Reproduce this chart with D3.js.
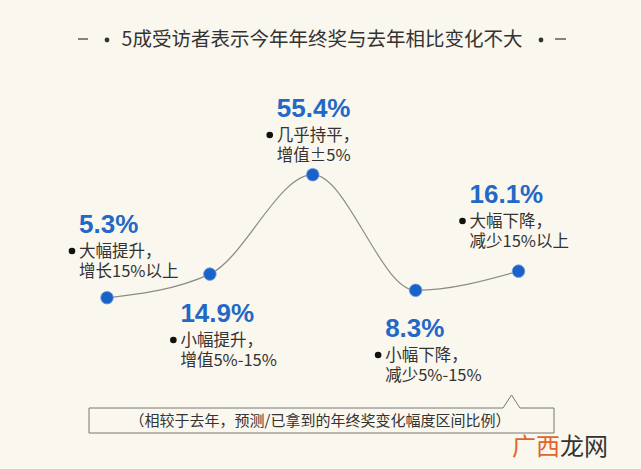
<!DOCTYPE html>
<html><head><meta charset="utf-8">
<script src="https://cdn.jsdelivr.net/npm/d3@7"></script>
<style>
html,body{margin:0;padding:0;background:#faf7ee;}
svg{display:block;}
</style></head>
<body>
<script>
const title = "5成受访者表示今年年终奖与去年相比变化不大";
const categories = ["大幅提升", "小幅提升", "几乎持平", "小幅下降", "大幅下降"];
const values = [5.3, 14.9, 55.4, 8.3, 16.1];
const valueLabels = ["5.3%", "14.9%", "55.4%", "8.3%", "16.1%"];
const line1 = ["大幅提升，", "小幅提升，", "几乎持平，", "小幅下降，", "大幅下降，"];
const line2 = ["增长15%以上", "增值5%-15%", "增值±5%", "减少5%-15%", "减少15%以上"];
const note = "（相较于去年，预测/已拿到的年终奖变化幅度区间比例）";

const W = 641, H = 469;
const svg = d3.select("body").append("svg").attr("width", W).attr("height", H);
svg.append("rect").attr("width", W).attr("height", H).attr("fill", "#faf7ee");

const cjk = "'Noto Sans CJK SC','Noto Sans',sans-serif";
const lat = "'Liberation Sans',Arial,sans-serif";

// title
svg.append("text").attr("x", 322).attr("y", 46).attr("text-anchor", "middle")
  .attr("font-family", cjk).attr("font-size", 19.5).attr("fill", "#333").text(title);
[[78, 88], [555, 566]].forEach(([a, b]) => {
  svg.append("line").attr("x1", a).attr("x2", b).attr("y1", 39).attr("y2", 39)
    .attr("stroke", "#444").attr("stroke-width", 1.3);
});
[107, 541].forEach(cx => svg.append("circle").attr("cx", cx).attr("cy", 40).attr("r", 2.4).attr("fill", "#333"));

// scales
const x = d3.scalePoint().domain(categories).range([107, 518.5]);
const y = d3.scaleLinear().domain([0, 60]).range([310.7, 163.4]);

const pts = categories.map((c, i) => ({ c, v: values[i], i }));

svg.append("path").datum(pts)
  .attr("d", d3.line().x(d => x(d.c)).y(d => y(d.v)).curve(d3.curveMonotoneX))
  .attr("fill", "none").attr("stroke", "#8c8c8c").attr("stroke-width", 1.2);

svg.selectAll("circle.dot").data(pts).join("circle").attr("class", "dot")
  .attr("cx", d => x(d.c)).attr("cy", d => y(d.v)).attr("r", 6.3)
  .attr("fill", "#1a62c8").attr("stroke", "#6f9ee0").attr("stroke-width", 0.8);

// label offsets (layout)
const offs = [[-28, -64.7], [-29.5, 47.9], [-36, -57.7], [-30.5, 46.7], [-49, -68.2]];

pts.forEach(d => {
  const lx = x(d.c) + offs[d.i][0];
  const by = y(d.v) + offs[d.i][1];
  svg.append("text").attr("x", lx).attr("y", by)
    .attr("font-family", lat).attr("font-weight", "bold").attr("font-size", 26)
    .attr("fill", "#2468c6").text(valueLabels[d.i]);
  svg.append("circle").attr("cx", lx - 7).attr("cy", by + 24 - 6).attr("r", 3.3).attr("fill", "#111");
  svg.append("text").attr("x", lx).attr("y", by + 24)
    .attr("font-family", cjk).attr("font-size", 16.5).attr("fill", "#333").text(line1[d.i]);
  svg.append("text").attr("x", lx).attr("y", by + 44)
    .attr("font-family", cjk).attr("font-size", 16.5).attr("fill", "#333").text(line2[d.i]);
});

// note box
svg.append("path").attr("d", "M89,408 H503 L511.5,395 L520,408 H554 V433 H89 Z")
  .attr("fill", "none").attr("stroke", "#777").attr("stroke-width", 1);
svg.append("text").attr("x", 320).attr("y", 426).attr("text-anchor", "middle")
  .attr("font-family", cjk).attr("font-size", 15).attr("fill", "#333").text(note);

// watermark
const wm = svg.append("text").attr("x", 512).attr("y", 455)
  .attr("font-family", cjk).attr("font-size", 24);
wm.append("tspan").attr("fill", "#e0652b").text("广西");
wm.append("tspan").attr("fill", "#333").text("龙网");
</script>
</body></html>
